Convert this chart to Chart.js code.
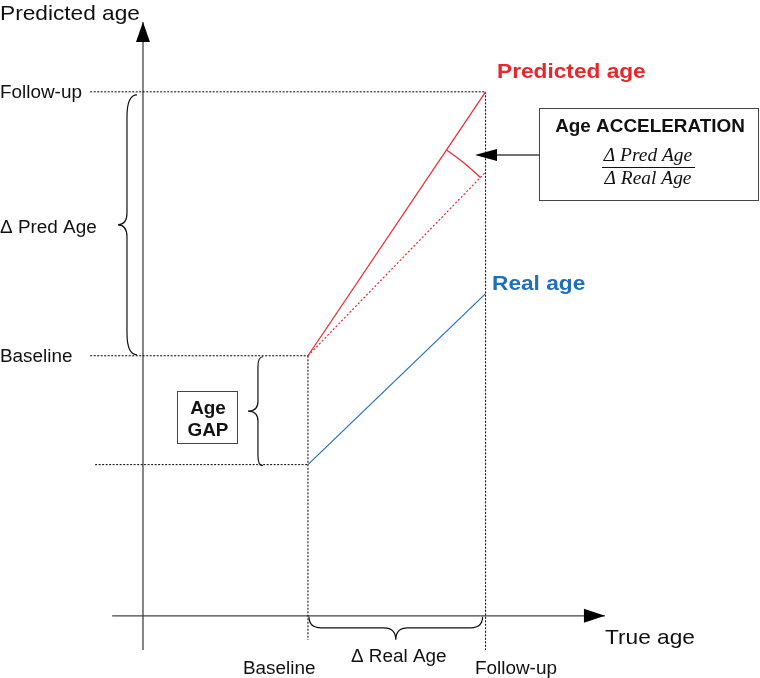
<!DOCTYPE html>
<html>
<head>
<meta charset="utf-8">
<title>Age acceleration</title>
<script src="https://cdn.jsdelivr.net/npm/chart.js@4.4.0/dist/chart.umd.min.js"></script>
<style>
  html, body { margin: 0; padding: 0; background: #fff; }
  canvas { display: block; }
</style>
</head>
<body>
<canvas id="diagram" width="760" height="678"></canvas>
<script>
// Diagram values (true age on x, age on y)
const trueAge = [30, 62.3];              // baseline, follow-up
const realAge = [27.5, 58.6];            // real age at baseline, follow-up
const predictedAge = [47.3, 95.3];       // predicted age at baseline, follow-up
const expectedPredicted = [47.3, 80.7];  // predicted age if it grew like real age
const timeLabels = ['Baseline', 'Follow-up'];

// Extents of the axes and guides (scale units)
const xRange = [-26, 112.2];
const yRange = [-11.3, 112];
const xAxisSpan = [-5.6, 84];
const yAxisSpan = [-6.2, 108];
const guideLeft = [-9.6, -8.7];
const guideBottom = [-4.4, -6.2];

const RED = '#e8262b';
const BLUE = '#1f6fba';
const INK = '#111';
const AXIS = '#444';
const STRETCH = 1.08;

function seg(x1, y1, x2, y2) {
    return [{ x: x1, y: y1 }, { x: x2, y: y2 }];
}

function lineSet(data, color, width, dash) {
    return {
        data: data,
        showLine: true,
        borderColor: color,
        borderWidth: width,
        borderDash: dash || [],
        pointRadius: 0,
        fill: false
    };
}

const DOTS = [2, 1.5];

const datasets = [
    lineSet(seg(trueAge[0], realAge[0], trueAge[1], realAge[1]), BLUE, 1.2),
    lineSet(seg(trueAge[0], predictedAge[0], trueAge[1], predictedAge[1]), RED, 1.2),
    lineSet(seg(trueAge[0], expectedPredicted[0], trueAge[1], expectedPredicted[1]), RED, 1.2, [2, 2]),
    // dotted guides
    lineSet(seg(guideLeft[0], predictedAge[1], trueAge[1], predictedAge[1]), '#000', 1, DOTS),
    lineSet(seg(guideLeft[0], predictedAge[0], trueAge[0], predictedAge[0]), '#000', 1, DOTS),
    lineSet(seg(guideLeft[1], realAge[0], trueAge[0], realAge[0]), '#000', 1, DOTS),
    lineSet(seg(trueAge[0], predictedAge[0], trueAge[0], guideBottom[0]), '#000', 1, DOTS),
    lineSet(seg(trueAge[1], predictedAge[1], trueAge[1], guideBottom[1]), '#000', 1, DOTS),
    // axes
    lineSet(seg(0, yAxisSpan[0], 0, yAxisSpan[1]), AXIS, 1.3),
    lineSet(seg(xAxisSpan[0], 0, xAxisSpan[1], 0), AXIS, 1.3)
];

// Text drawn slightly wider, like the original artwork
function text(ctx, str, x, y, font, color, align) {
    ctx.save();
    ctx.font = font;
    ctx.fillStyle = color;
    ctx.textAlign = align || 'left';
    ctx.textBaseline = 'alphabetic';
    ctx.translate(x, y);
    ctx.scale(STRETCH, 1);
    ctx.fillText(str, 0, 0);
    ctx.restore();
}

// Curly brace along a vertical span (tip points left)
function braceV(ctx, y1, y2, xe, xm, xt, re, rt) {
    const ym = (y1 + y2) / 2;
    ctx.beginPath();
    ctx.moveTo(xe, y1);
    ctx.quadraticCurveTo(xm, y1, xm, y1 + re);
    ctx.lineTo(xm, ym - rt);
    ctx.quadraticCurveTo(xm, ym, xt, ym);
    ctx.quadraticCurveTo(xm, ym, xm, ym + rt);
    ctx.lineTo(xm, y2 - re);
    ctx.quadraticCurveTo(xm, y2, xe, y2);
    ctx.stroke();
}

// Curly brace along a horizontal span (tip points down)
function braceH(ctx, x1, x2, ye, ym, yt, re, rt) {
    const xm = (x1 + x2) / 2;
    ctx.beginPath();
    ctx.moveTo(x1, ye);
    ctx.quadraticCurveTo(x1, ym, x1 + re, ym);
    ctx.lineTo(xm - rt, ym);
    ctx.quadraticCurveTo(xm, ym, xm, yt);
    ctx.quadraticCurveTo(xm, ym, xm + rt, ym);
    ctx.lineTo(x2 - re, ym);
    ctx.quadraticCurveTo(x2, ym, x2, ye);
    ctx.stroke();
}

function triangle(ctx, pts, color) {
    ctx.beginPath();
    ctx.moveTo(pts[0][0], pts[0][1]);
    ctx.lineTo(pts[1][0], pts[1][1]);
    ctx.lineTo(pts[2][0], pts[2][1]);
    ctx.closePath();
    ctx.fillStyle = color;
    ctx.fill();
}

const sketchPlugin = {
    id: 'sketch',
    afterDatasetsDraw(chart) {
        const ctx = chart.ctx;
        const sx = chart.scales.x;
        const sy = chart.scales.y;
        const px = v => sx.getPixelForValue(v);
        const py = v => sy.getPixelForValue(v);

        const ox = px(0), oy = py(0);
        const bx = px(trueAge[0]), fx = px(trueAge[1]);
        const predB = py(predictedAge[0]), predF = py(predictedAge[1]);
        const realB = py(realAge[0]);

        // axis arrowheads
        const yTip = py(yAxisSpan[1]);
        triangle(ctx, [[ox, yTip], [ox - 7, yTip + 20], [ox + 7, yTip + 20]], '#000');
        const xTip = px(xAxisSpan[1]);
        triangle(ctx, [[xTip, oy], [xTip - 21, oy - 7], [xTip - 21, oy + 7]], '#000');

        // angle between predicted slope and expected slope
        const ex = px(trueAge[1]), ey = py(expectedPredicted[1]);
        const a1 = Math.atan2(predF - predB, fx - bx);
        const a2 = Math.atan2(ey - predB, ex - bx);
        ctx.save();
        ctx.strokeStyle = RED;
        ctx.lineWidth = 1.2;
        ctx.beginPath();
        ctx.arc(bx, predB, 248, a1, a2, false);
        ctx.stroke();
        ctx.restore();

        // braces
        ctx.save();
        ctx.strokeStyle = INK;
        ctx.lineWidth = 1.2;
        braceV(ctx, predF + 3, predB - 1, ox - 6, ox - 16, ox - 25, 22, 12);
        braceV(ctx, predB + 1, realB + 1, bx - 45, bx - 50, bx - 60, 10, 10);
        braceH(ctx, bx + 1, fx - 3, oy + 1, oy + 12, oy + 24, 12, 12);
        ctx.restore();

        // Age GAP box
        ctx.save();
        ctx.strokeStyle = AXIS;
        ctx.lineWidth = 1;
        ctx.strokeRect(177.5, 391.5, 60, 52);
        // Age ACCELERATION box
        ctx.strokeRect(539.5, 108.5, 219, 92);
        // pointer arrow
        ctx.beginPath();
        ctx.moveTo(539, 155);
        ctx.lineTo(494, 155);
        ctx.lineWidth = 1.3;
        ctx.stroke();
        triangle(ctx, [[475, 155], [497, 149], [497, 161]], '#000');
        // fraction bar
        ctx.beginPath();
        ctx.moveTo(602, 167.5);
        ctx.lineTo(695, 167.5);
        ctx.lineWidth = 1;
        ctx.strokeStyle = INK;
        ctx.stroke();
        ctx.restore();

        const sans = '"Liberation Sans", Arial, sans-serif';
        const serif = '"Liberation Serif", "Times New Roman", serif';

        // axis titles
        text(ctx, 'Predicted age', 0, 20, '21px ' + sans, INK);
        text(ctx, 'True age', 605, 644, '21px ' + sans, INK);

        // y side labels
        text(ctx, timeLabels[1], 0, predF + 6.5, '17.5px ' + sans, INK);
        text(ctx, timeLabels[0], 0, predB + 6.5, '17.5px ' + sans, INK);
        text(ctx, '\u0394 Pred Age', 0, 232.5, '17.5px ' + sans, INK);

        // x side labels
        text(ctx, timeLabels[0], 243, 674, '17.5px ' + sans, INK);
        text(ctx, timeLabels[1], 475, 674, '17.5px ' + sans, INK);
        text(ctx, '\u0394 Real Age', (bx + fx) / 2 + 2, 662, '17.5px ' + sans, INK, 'center');

        // series labels
        text(ctx, 'Predicted age', 497, 78, 'bold 21px ' + sans, RED);
        text(ctx, 'Real age', 492, 290, 'bold 21px ' + sans, BLUE);

        // boxes text
        text(ctx, 'Age', 208, 414, 'bold 17.5px ' + sans, INK, 'center');
        text(ctx, 'GAP', 208, 436, 'bold 17.5px ' + sans, INK, 'center');
        text(ctx, 'Age ACCELERATION', 650, 132, 'bold 17.5px ' + sans, INK, 'center');
        text(ctx, '\u0394 Pred Age', 648, 161, 'italic 18px ' + serif, INK, 'center');
        text(ctx, '\u0394 Real Age', 648, 184, 'italic 18px ' + serif, INK, 'center');
    }
};

new Chart(document.getElementById('diagram'), {
    type: 'scatter',
    data: { datasets: datasets },
    options: {
        responsive: false,
        animation: false,
        layout: { padding: 0 },
        scales: {
            x: { type: 'linear', min: xRange[0], max: xRange[1], display: false },
            y: { type: 'linear', min: yRange[0], max: yRange[1], display: false }
        },
        plugins: {
            legend: { display: false },
            tooltip: { enabled: false }
        }
    },
    plugins: [sketchPlugin]
});
</script>
</body>
</html>
